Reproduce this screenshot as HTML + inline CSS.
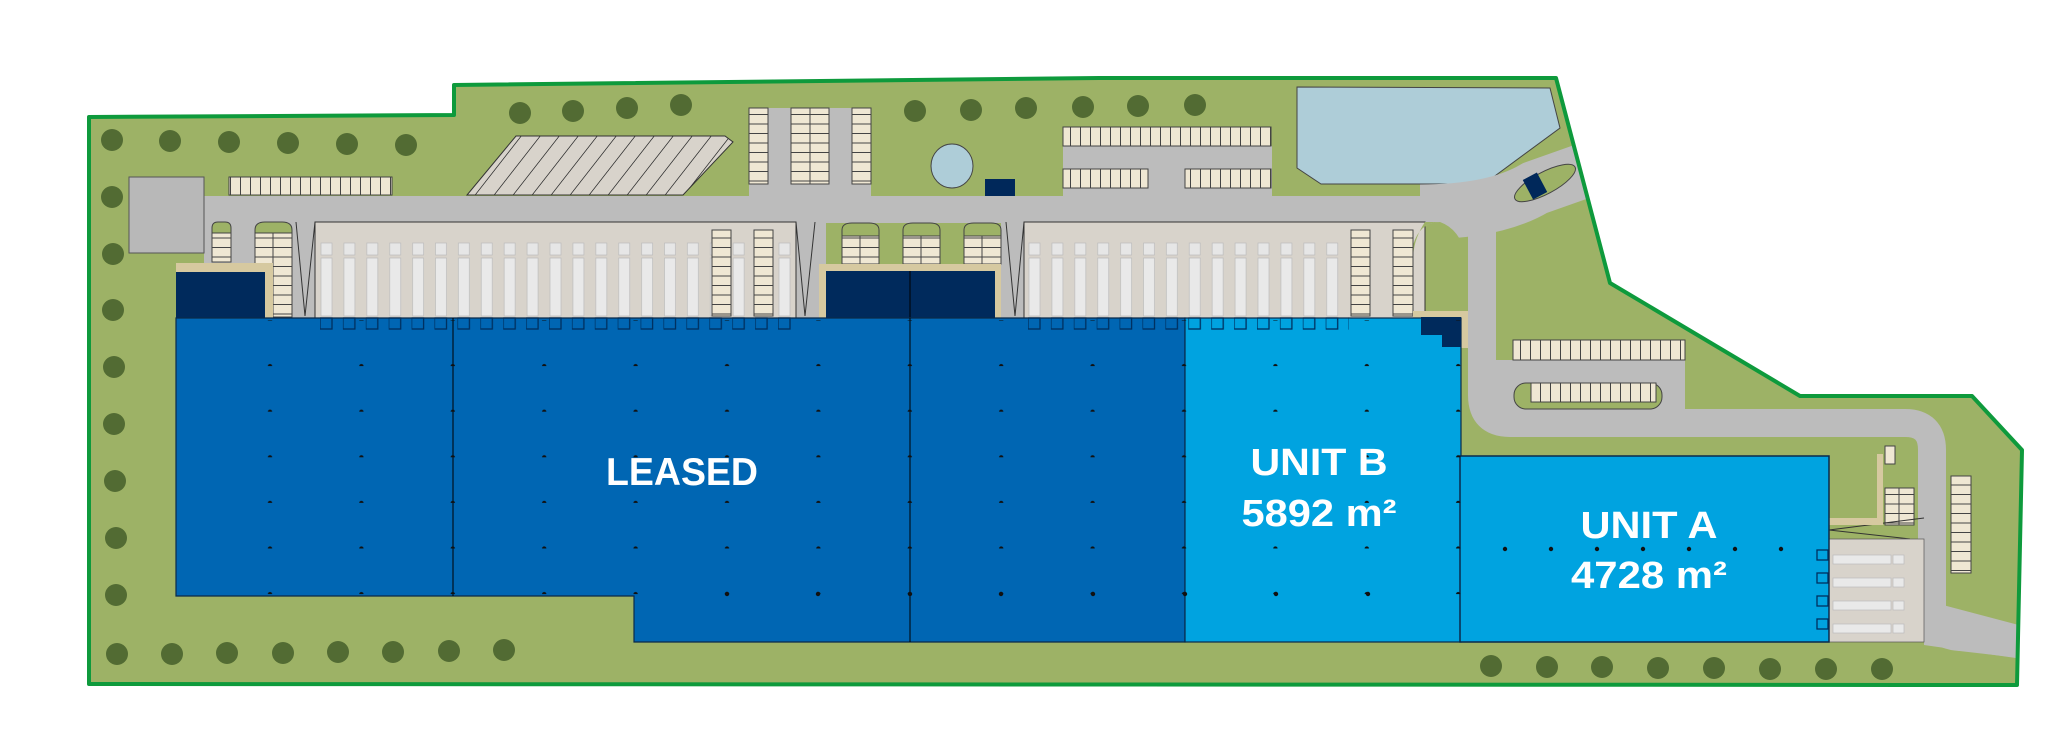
<!DOCTYPE html>
<html><head><meta charset="utf-8"><style>
html,body{margin:0;padding:0;background:#fff;}
svg{display:block}
text{font-family:"Liberation Sans",sans-serif;font-weight:bold;fill:#fff;text-anchor:middle}
</style></head><body>
<svg width="2048" height="743" viewBox="0 0 2048 743" xmlns="http://www.w3.org/2000/svg">
<defs>
<clipPath id="site"><polygon points="89,117 454,115 454,85 1099,78 1556,78 1610,283 1800,396 1972,396 2022,450 2017,685 89,684"/></clipPath>
<pattern id="ph" patternUnits="userSpaceOnUse" width="10" height="40"><rect width="10" height="40" fill="#efe7d3"/><line x1="0.5" y1="0" x2="0.5" y2="40" stroke="#444" stroke-width="1"/></pattern>
<pattern id="pv" patternUnits="userSpaceOnUse" width="40" height="9.5"><rect width="40" height="9.5" fill="#efe7d3"/><line x1="0" y1="0.5" x2="40" y2="0.5" stroke="#444" stroke-width="1"/></pattern>
<pattern id="diag" patternUnits="userSpaceOnUse" width="19" height="60" patternTransform="skewX(-38)"><rect width="19" height="60" fill="#d8d3cb"/><line x1="0.5" y1="0" x2="0.5" y2="60" stroke="#333" stroke-width="1"/></pattern>
<pattern id="truck" patternUnits="userSpaceOnUse" x="320" y="0" width="22.9" height="743"><rect x="1" y="243" width="11" height="12" fill="#e6e6e6" stroke="#bbb" stroke-width="0.7"/><rect x="1" y="258" width="11" height="58" fill="#e9e9e9" stroke="#bbb" stroke-width="0.7"/><rect x="0" y="318" width="12" height="11" fill="none" stroke="#002f5e" stroke-width="1.3"/></pattern>
<pattern id="truck2" patternUnits="userSpaceOnUse" x="1028" y="0" width="22.9" height="743"><rect x="1" y="243" width="11" height="12" fill="#e6e6e6" stroke="#bbb" stroke-width="0.7"/><rect x="1" y="258" width="11" height="58" fill="#e9e9e9" stroke="#bbb" stroke-width="0.7"/><rect x="0" y="318" width="12" height="11" fill="none" stroke="#002f5e" stroke-width="1.3"/></pattern>
<pattern id="dots" patternUnits="userSpaceOnUse" x="224.3" y="320.5" width="91.4" height="45.6"><circle cx="45.7" cy="45.7" r="2.2" fill="#111"/></pattern>
</defs>

<polygon points="89,117 454,115 454,85 1099,78 1556,78 1610,283 1800,396 1972,396 2022,450 2017,685 89,684" fill="#9db266"/>

<g fill="#526b33">
<circle cx="112" cy="140" r="11"/><circle cx="112" cy="197" r="11"/><circle cx="113" cy="254" r="11"/><circle cx="113" cy="310" r="11"/><circle cx="114" cy="367" r="11"/><circle cx="114" cy="424" r="11"/><circle cx="115" cy="481" r="11"/><circle cx="116" cy="538" r="11"/><circle cx="116" cy="595" r="11"/>
<circle cx="170" cy="141" r="11"/><circle cx="229" cy="142" r="11"/><circle cx="288" cy="143" r="11"/><circle cx="347" cy="144" r="11"/><circle cx="406" cy="145" r="11"/>
<circle cx="520" cy="113" r="11"/><circle cx="573" cy="111" r="11"/><circle cx="627" cy="108" r="11"/><circle cx="681" cy="105" r="11"/>
<circle cx="915" cy="111" r="11"/><circle cx="971" cy="110" r="11"/><circle cx="1026" cy="108" r="11"/><circle cx="1083" cy="107" r="11"/><circle cx="1138" cy="106" r="11"/><circle cx="1195" cy="105" r="11"/>
<circle cx="117" cy="654" r="11"/><circle cx="172" cy="654" r="11"/><circle cx="227" cy="653" r="11"/><circle cx="283" cy="653" r="11"/><circle cx="338" cy="652" r="11"/><circle cx="393" cy="652" r="11"/><circle cx="449" cy="651" r="11"/><circle cx="504" cy="650" r="11"/>
<circle cx="1491" cy="666" r="11"/><circle cx="1547" cy="667" r="11"/><circle cx="1602" cy="667" r="11"/><circle cx="1658" cy="668" r="11"/><circle cx="1714" cy="668" r="11"/><circle cx="1770" cy="669" r="11"/><circle cx="1826" cy="669" r="11"/><circle cx="1882" cy="669" r="11"/>
</g>

<polygon points="1297,87 1550,88 1560,128 1484,184 1321,184 1297,168" fill="#aecdd8" stroke="#444" stroke-width="1"/>
<ellipse cx="952" cy="166" rx="21" ry="22" fill="#aecdd8" stroke="#444" stroke-width="1"/>
<rect x="985" y="179" width="30" height="17" fill="#00285a"/>

<g clip-path="url(#site)">
<g fill="#bcbcbc" stroke="none">
<rect x="204" y="196" width="1270" height="27"/>
<rect x="204" y="196" width="111" height="122"/>
<rect x="796" y="196" width="30" height="122"/>
<rect x="1001" y="196" width="23" height="122"/>
<rect x="749" y="108" width="122" height="90"/>
<rect x="1063" y="146" width="209" height="52"/>
<rect x="1496" y="360" width="189" height="50"/>
</g>
<g fill="none" stroke="#bcbcbc" stroke-linecap="butt" stroke-linejoin="round">
<path d="M1420 212 Q1495 212 1535 188 L1600 165" stroke-width="55"/>
<path d="M1482 215 L1482 395 Q1482 423 1510 423 L1905 423 Q1932 423 1932 450 L1932 610 Q1932 635 1960 637 L2030 645" stroke-width="28"/>
</g>
<polygon points="1924,600 2030,628 2030,660 1924,645" fill="#bcbcbc"/>
<path d="M1496,300 Q1500,250 1540,230 L1600,208 L1640,208 L1640,300 Z" fill="#9db266"/>
</g>
<rect x="129" y="177" width="75" height="76" fill="#b8b8b8" stroke="#555" stroke-width="1"/>
<ellipse cx="1545" cy="183" rx="34" ry="11" transform="rotate(-28 1545 183)" fill="#9db266" stroke="#444" stroke-width="1"/>
<rect x="1527" y="175" width="16" height="22" transform="rotate(-28 1535 186)" fill="#00285a"/>
<path d="M1413,317 L1413,245 Q1420,222 1440,222 Q1468,232 1468,280 L1468,317 Z" fill="#9db266"/>
<rect x="1514" y="383" width="148" height="26" rx="12" fill="#9db266" stroke="#444" stroke-width="1"/>
<rect x="1882" y="486" width="36" height="40" rx="6" fill="#9db266"/>

<polygon points="89,117 454,115 454,85 1099,78 1556,78 1610,283 1800,396 1972,396 2022,450 2017,685 89,684" fill="none" stroke="#0e9a3c" stroke-width="4" stroke-linejoin="round"/>

<polygon points="516,136 725,136 733,142 683,195 467,195" fill="url(#diag)" stroke="#333" stroke-width="1"/>

<g stroke="#444" stroke-width="1">
<rect x="229" y="177" width="163" height="18" fill="url(#ph)"/>
<rect x="749" y="108" width="19" height="76" fill="url(#pv)"/>
<rect x="791" y="108" width="38" height="76" fill="url(#pv)"/>
<line x1="810" y1="108" x2="810" y2="184"/>
<rect x="852" y="108" width="19" height="76" fill="url(#pv)"/>
<rect x="1063" y="127" width="208" height="19" fill="url(#ph)"/>
<rect x="1063" y="169" width="85" height="19" fill="url(#ph)"/>
<rect x="1185" y="169" width="86" height="19" fill="url(#ph)"/>
<rect x="1513" y="340" width="172" height="20" fill="url(#ph)"/>
<rect x="1531" y="383" width="125" height="19" fill="url(#ph)"/>
<rect x="1951" y="476" width="20" height="97" fill="url(#pv)"/>
<rect x="1885" y="488" width="29" height="37" fill="url(#pv)"/>
<line x1="1899" y1="488" x2="1899" y2="525"/>
<rect x="1885" y="446" width="10" height="18" fill="#efe7d3"/>
</g>

<rect x="315" y="222" width="481" height="96" fill="#d8d3cb" stroke="#333" stroke-width="1"/>
<rect x="315" y="222" width="481" height="96" fill="url(#truck)"/>
<rect x="1024" y="222" width="401" height="96" fill="#d8d3cb" stroke="#333" stroke-width="1"/>
<rect x="1024" y="222" width="325" height="110" fill="url(#truck2)"/>
<path d="M1413,317 L1413,245 Q1420,222 1440,222 L1425,222 Q1413,240 1413,260Z" fill="#9db266"/>
<g stroke="#444" stroke-width="1">
<rect x="712" y="230" width="19" height="86" fill="url(#pv)"/>
<rect x="754" y="230" width="19" height="86" fill="url(#pv)"/>
<rect x="1351" y="230" width="19" height="86" fill="url(#pv)"/>
<rect x="1393" y="230" width="20" height="86" fill="url(#pv)"/>
</g>
<g stroke="#444" stroke-width="1">
<path d="M212,233 L212,228 Q212,222 218,222 L225,222 Q231,222 231,228 L231,233Z" fill="#9db266"/>
<rect x="212" y="233" width="19" height="29" fill="url(#pv)"/>
<path d="M255,233 L255,230 Q255,222 265,222 L282,222 Q292,222 292,230 L292,233Z" fill="#9db266"/>
<rect x="255" y="233" width="37" height="84" fill="url(#pv)"/><line x1="273" y1="233" x2="273" y2="317"/>
<path d="M842,236 L842,230 Q842,223 852,223 L869,223 Q879,223 879,230 L879,236Z" fill="#9db266"/>
<rect x="842" y="236" width="37" height="28" fill="url(#pv)"/><line x1="860" y1="236" x2="860" y2="264"/>
<path d="M903,236 L903,230 Q903,223 913,223 L930,223 Q940,223 940,230 L940,236Z" fill="#9db266"/>
<rect x="903" y="236" width="37" height="28" fill="url(#pv)"/><line x1="921" y1="236" x2="921" y2="264"/>
<path d="M964,236 L964,230 Q964,223 974,223 L991,223 Q1001,223 1001,230 L1001,236Z" fill="#9db266"/>
<rect x="964" y="236" width="37" height="28" fill="url(#pv)"/><line x1="982" y1="236" x2="982" y2="264"/>
</g>
<g fill="none" stroke="#333" stroke-width="1">
<path d="M296,222 L305,316 L315,222"/><path d="M796,222 L805,316 L815,222"/>
<path d="M1006,222 L1015,316 L1024,222"/>
<path d="M1829,530 L1924,518 M1829,530 L1910,539"/>
</g>
<rect x="176" y="263" width="97" height="55" fill="#d6c9a0"/>
<rect x="176" y="272" width="89" height="46" fill="#002a5c"/>
<rect x="819" y="264" width="182" height="54" fill="#d6c9a0"/>
<rect x="826" y="271" width="169" height="47" fill="#002a5c"/>
<line x1="910" y1="271" x2="910" y2="318" stroke="#000" stroke-width="1"/>
<rect x="1413" y="311" width="55" height="37" fill="#d6c9a0"/>
<rect x="1877" y="454" width="6" height="71" fill="#d6c9a0"/>
<rect x="1829" y="518" width="54" height="7" fill="#d6c9a0"/>

<rect x="1829" y="539" width="95" height="103" fill="#d8d3cb" stroke="#555" stroke-width="0.7"/>
<g fill="#e9e9e9" stroke="#bbb" stroke-width="0.7">
<rect x="1833" y="555" width="58" height="9"/><rect x="1893" y="555" width="11" height="9"/>
<rect x="1833" y="578" width="58" height="9"/><rect x="1893" y="578" width="11" height="9"/>
<rect x="1833" y="601" width="58" height="9"/><rect x="1893" y="601" width="11" height="9"/>
<rect x="1833" y="624" width="58" height="9"/><rect x="1893" y="624" width="11" height="9"/>
</g>

<path d="M176,318 L1185,318 L1185,642 L634,642 L634,596 L176,596 Z" fill="#0066b3" stroke="#0a2a4a" stroke-width="1.2"/>
<line x1="453" y1="318" x2="453" y2="596" stroke="#000" stroke-width="1"/>
<line x1="910" y1="318" x2="910" y2="642" stroke="#000" stroke-width="1"/>
<rect x="1185" y="318" width="276" height="324" fill="#00a3e0" stroke="#0a2a4a" stroke-width="1.2"/>
<rect x="1460" y="456" width="369" height="186" fill="#00a3e0" stroke="#0a2a4a" stroke-width="1.5"/>
<path d="M1421,317 L1461,317 L1461,347 L1442,347 L1442,335 L1421,335Z" fill="#002a5c"/>
<rect x="315" y="318" width="480" height="12" fill="url(#truck)"/>
<rect x="1024" y="318" width="325" height="12" fill="url(#truck2)"/>
<g fill="none" stroke="#002f5e" stroke-width="1.3">
<rect x="1817" y="550" width="11" height="10"/><rect x="1817" y="573" width="11" height="10"/><rect x="1817" y="596" width="11" height="10"/><rect x="1817" y="619" width="11" height="10"/>
</g>

<rect x="224" y="320" width="1240" height="278" fill="url(#dots)"/>
<g fill="#111">
<circle cx="727" cy="594" r="2.2"/><circle cx="818" cy="594" r="2.2"/><circle cx="910" cy="594" r="2.2"/><circle cx="1001" cy="594" r="2.2"/><circle cx="1093" cy="594" r="2.2"/><circle cx="1185" cy="594" r="2.2"/><circle cx="1276" cy="594" r="2.2"/><circle cx="1368" cy="594" r="2.2"/>
<circle cx="1505" cy="549" r="2.2"/><circle cx="1551" cy="549" r="2.2"/><circle cx="1597" cy="549" r="2.2"/><circle cx="1643" cy="549" r="2.2"/><circle cx="1689" cy="549" r="2.2"/><circle cx="1735" cy="549" r="2.2"/><circle cx="1781" cy="549" r="2.2"/>
</g>

<text x="682" y="485" font-size="39" textLength="152" lengthAdjust="spacingAndGlyphs">LEASED</text>
<text x="1319" y="475" font-size="38" textLength="137" lengthAdjust="spacingAndGlyphs">UNIT B</text>
<text x="1319" y="526" font-size="38" textLength="155" lengthAdjust="spacingAndGlyphs">5892 m²</text>
<text x="1649" y="538" font-size="38" textLength="137" lengthAdjust="spacingAndGlyphs">UNIT A</text>
<text x="1649" y="588" font-size="38" textLength="156" lengthAdjust="spacingAndGlyphs">4728 m²</text>
</svg>
</body></html>
